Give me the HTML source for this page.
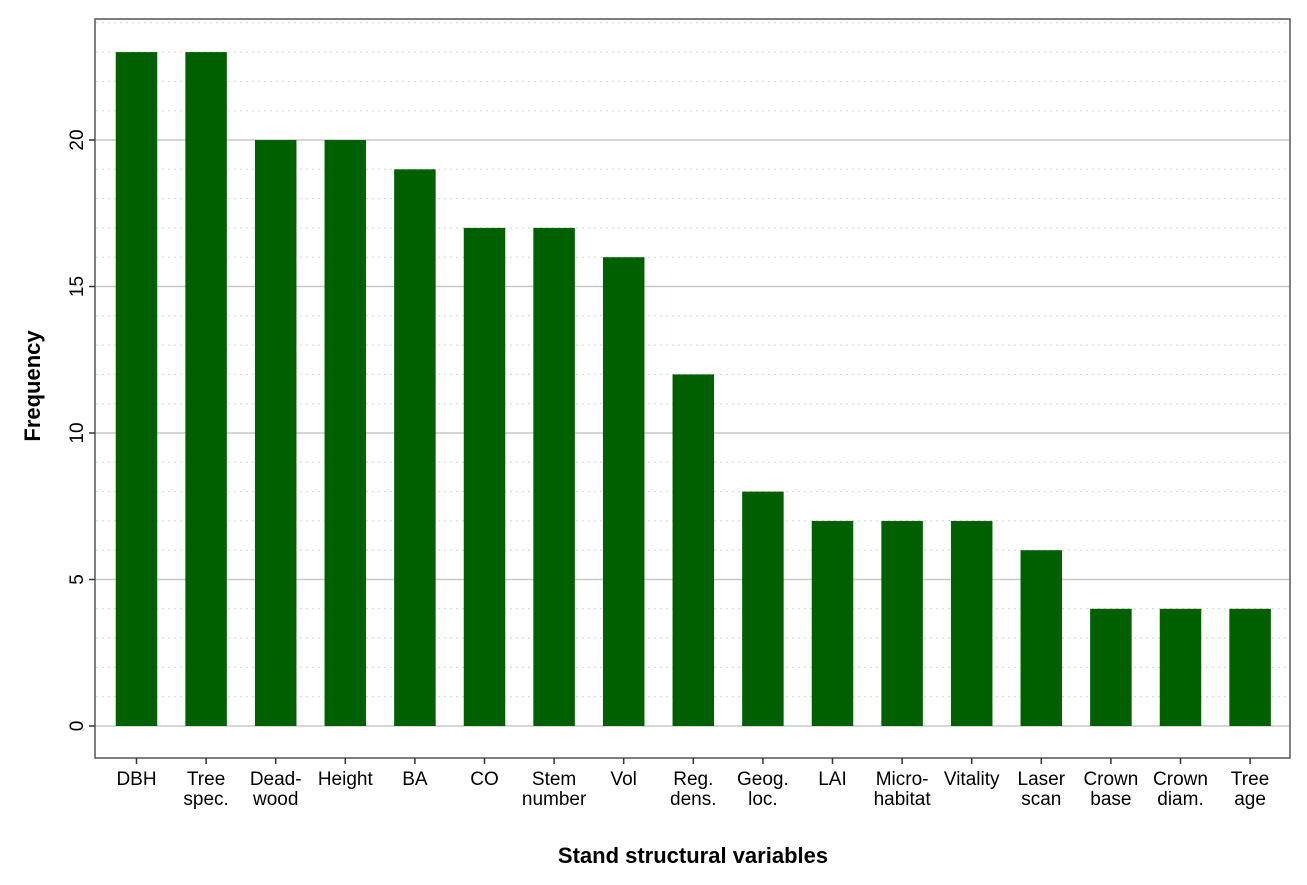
<!DOCTYPE html>
<html><head><meta charset="utf-8"><style>
body{margin:0;background:#fff;}
svg text{font-family:"Liberation Sans",Arial,sans-serif;}
</style></head><body>
<svg width="1307" height="880" xmlns="http://www.w3.org/2000/svg">
<g id="grid"></g>
<g id="bars"></g>
<rect x="95" y="19" width="1195" height="739" fill="none" stroke="#555" stroke-width="1.5"/>
<g id="yax"></g>
<g id="xax"></g>
<text x="40" y="386" transform="rotate(-90 40 386)" text-anchor="middle" font-size="22" font-weight="bold">Frequency</text>
<text x="693" y="863" text-anchor="middle" font-size="22" font-weight="bold">Stand structural variables</text>
</svg>
<script>
const categories=[["DBH"],["Tree","spec."],["Dead-","wood"],["Height"],["BA"],["CO"],["Stem","number"],["Vol"],["Reg.","dens."],["Geog.","loc."],["LAI"],["Micro-","habitat"],["Vitality"],["Laser","scan"],["Crown","base"],["Crown","diam."],["Tree","age"]];
const values=[23,23,20,20,19,17,17,16,12,8,7,7,7,6,4,4,4];
const yTicks=[0,5,10,15,20];
const NS="http://www.w3.org/2000/svg";
const y=v=>726-v*29.3;
const x=i=>136.5+i*69.6;
const bw=41.5;
function mk(t,a,p){const e=document.createElementNS(NS,t);for(const k in a)e.setAttribute(k,a[k]);p.appendChild(e);return e;}
const grid=document.getElementById('grid'),bars=document.getElementById('bars'),yax=document.getElementById('yax'),xax=document.getElementById('xax');
for(let v=0;v<=24;v++){
  const major=v%5===0;
  const l=mk('line',{x1:96,x2:1289,y1:y(v),y2:y(v),stroke:major?'#c8c8c8':'#d4d4d4','stroke-width':major?1.5:1,'stroke-dasharray':major?'':'2,4'},grid);
  
  
}
yTicks.forEach(v=>{
  const t=mk('line',{x1:89,x2:95,y1:y(v),y2:y(v),stroke:'#333','stroke-width':1.5},yax);
  
  
  const tx=mk('text',{x:83,y:y(v),'font-size':19,'text-anchor':'middle',transform:`rotate(-90 83 ${y(v)})`},yax);
  
  
  tx.textContent=v;
});
values.forEach((v,i)=>{
  const r=mk('rect',{x:x(i)-bw/2,y:y(v),width:bw,height:y(0)-y(v),fill:'#006000'},bars);
  
  
  const t=mk('line',{x1:x(i),x2:x(i),y1:758,y2:764,stroke:'#333','stroke-width':1.5},xax);
  
  
  const tx=mk('text',{x:x(i),y:785,'font-size':19,'text-anchor':'middle'},xax);
  
  
  categories[i].forEach((s,j)=>{const sp=mk('tspan',{x:x(i),dy:j?20:0},tx);sp.textContent=s;});
});
</script>
</body></html>
